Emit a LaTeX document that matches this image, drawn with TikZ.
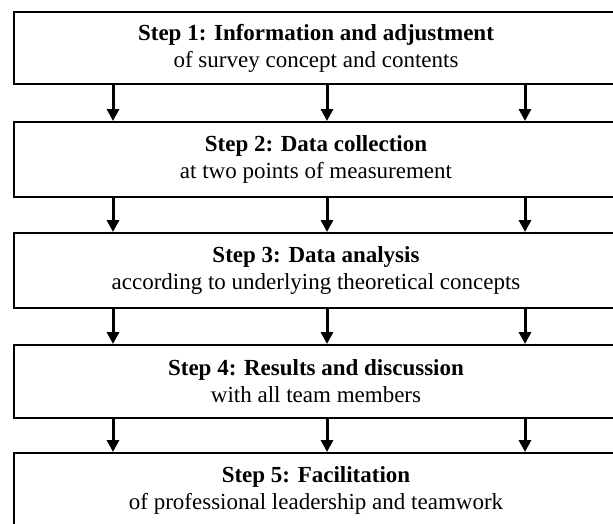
\documentclass[tikz,border=0pt]{standalone}
\usepackage{fontspec}
\setmainfont{Liberation Serif}
\usetikzlibrary{arrows.meta}
\begin{document}
\begin{tikzpicture}[x=1pt,y=-1pt,
  stepbox/.style={draw=black, line width=2pt, minimum width=604pt, minimum height=75pt,
    align=center, inner sep=0pt, font=\fontsize{23}{27}\selectfont},
  flow/.style={line width=3pt, -{Triangle[width=12pt,length=12pt]}}]
\useasboundingbox (0,0) rectangle (613,523);
\clip (0,0) rectangle (613,523);
\node[stepbox, minimum height=72pt] (s1) at (316,48) {\textbf{Step 1: Information and adjustment}\\of survey concept and contents};
\node[stepbox] (s2) at (316,159.5) {\textbf{Step 2: Data collection}\\at two points of measurement};
\node[stepbox] (s3) at (316,270.5) {\textbf{Step 3: Data analysis}\\according to underlying theoretical concepts};
\node[stepbox, minimum height=73pt] (s4) at (316,381.5) {\textbf{Step 4: Results and discussion}\\with all team members};
\node[stepbox] (s5) at (316,490.5) {\textbf{Step 5: Facilitation}\\of professional leadership and teamwork};
\foreach \a/\b in {s1/s2,s2/s3,s3/s4,s4/s5}{
  \foreach \xx in {113,327,525}{
    \draw[flow] (\a.south -| \xx,0) -- (\b.north -| \xx,0);
  }
}
\end{tikzpicture}
\end{document}
